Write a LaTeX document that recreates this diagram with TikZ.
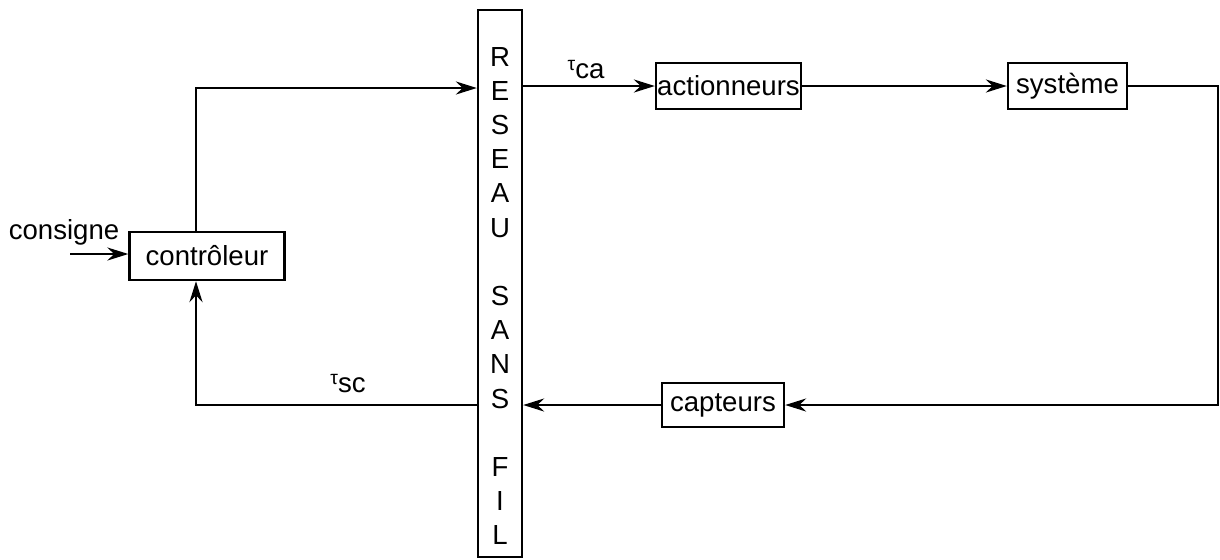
\documentclass[tikz,border=0pt]{standalone}
\usepackage{fontspec}
\setmainfont{Liberation Sans}
\usetikzlibrary{arrows.meta}
\newcommand{\tauidx}[1]{\raisebox{0.55ex}{\fontsize{11}{11}\selectfont τ}#1}
\begin{document}
\begin{tikzpicture}[x=0.02cm, y=-0.02cm,
        bloc/.style={draw, line width=1.4pt, inner sep=0pt, font=\fontsize{15.7}{19.5}\selectfont},
        lien/.style={line width=0.7pt},
        fleche/.style={lien, -{Stealth[length=12pt, width=7.5pt, inset=4pt]}},
        txt/.style={font=\fontsize{15.7}{19.5}\selectfont}]
                \useasboundingbox (0,0) rectangle (1220,559);
                
                \node[bloc, minimum width=3.1cm, minimum height=0.96cm] (ctrl) at (207,256) {contrôleur};
                \node[bloc, minimum width=0.88cm, minimum height=10.94cm] (reseau) at (500,283.5) {};
                \node[txt, align=center, font=\fontsize{15.7}{19.45}\selectfont] (lettres) at (500,296) {R\\E\\S\\E\\A\\U\\[19.45pt]S\\A\\N\\S\\[19.45pt]F\\I\\L};
                \node[bloc, minimum width=2.9cm, minimum height=0.92cm] (actio) at (728.5,86) {actionneurs};
                \node[bloc, minimum width=2.38cm, minimum height=0.92cm] (sys) at (1067.5,86) {système};
                \node[bloc, minimum width=2.44cm, minimum height=0.88cm] (capt) at (723,405) {capteurs};
                
                \node[txt] (consigne) at (64,232) {consigne};
                \coordinate (entree) at (70,254);
                \coordinate (haut) at (196,88);
                \coordinate (bas) at (196,404);
                \coordinate (droite) at (1218,88);
                
                \draw[fleche] (entree) -- (entree -| ctrl.west);
                \draw[fleche] (haut |- ctrl.north) -- (haut) -- (haut -| reseau.west);
                \draw[fleche] (reseau.east |- actio.west) -- (actio.west);
                \draw[fleche] (actio.east) -- (sys.west);
                \draw[fleche] (sys.east) -- (sys.east -| droite) |- (capt.east);
                \draw[fleche] (capt.west) -- (reseau.east |- capt.west);
                \draw[fleche] (reseau.west |- capt.west) -- (bas |- capt.west) -- (bas |- ctrl.south);
                
                \node[txt] (tca) at (586,70) {\tauidx{ca}};
                \node[txt] (tsc) at (348,384) {\tauidx{sc}};
            \end{tikzpicture}
\end{document}
